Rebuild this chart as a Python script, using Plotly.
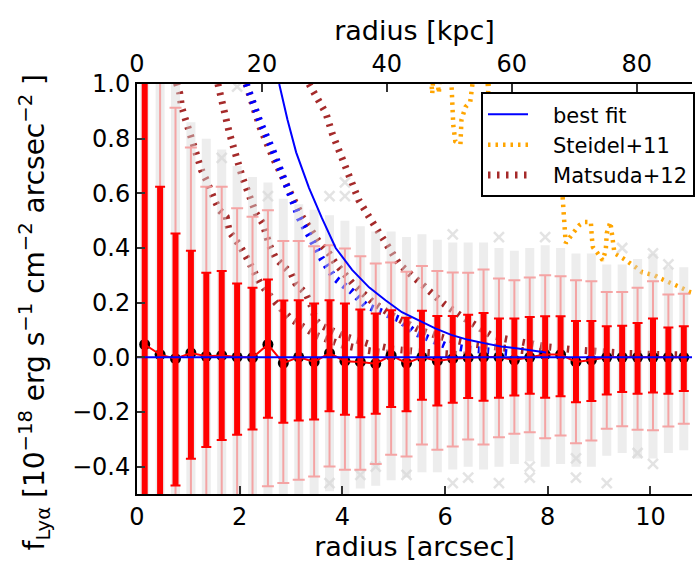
import plotly.graph_objects as go

# ---------------- data ----------------
r_arcsec = [0.15, 0.45, 0.75, 1.05, 1.35, 1.65, 1.95, 2.25, 2.55, 2.85, 3.15, 3.45,
            3.75, 4.05, 4.35, 4.65, 4.95, 5.25, 5.55, 5.85, 6.15, 6.45, 6.75, 7.05,
            7.35, 7.65, 7.95, 8.25, 8.55, 8.85, 9.15, 9.45, 9.75, 10.05, 10.35, 10.65]
flux = [0.047, 0.010, -0.005, 0.016, 0.004, 0.007, 0.001, -0.001, 0.047, -0.021, 0.001, -0.017,
        0.015, -0.014, -0.017, -0.023, 0.007, -0.021, 0.001, -0.013, -0.005, -0.001, 0.001, 0.001,
        -0.010, 0.000, 0.010, 0.010, -0.017, -0.010, 0.000, 0.000, 0.000, 0.000, 0.000, 0.000]
sig1_hi = [1.30, 0.624, 0.453, 0.390, 0.309, 0.316, 0.270, 0.255, 0.285, 0.208, 0.209, 0.197,
           0.209, 0.197, 0.175, 0.160, 0.172, 0.145, 0.170, 0.151, 0.151, 0.156, 0.162, 0.142,
           0.142, 0.148, 0.150, 0.150, 0.133, 0.133, 0.114, 0.116, 0.126, 0.142, 0.109, 0.114]
sig1_lo = [-1.20, -0.60, -0.469, -0.371, -0.328, -0.302, -0.283, -0.264, -0.221, -0.239, -0.231, -0.227,
           -0.197, -0.210, -0.219, -0.206, -0.182, -0.197, -0.155, -0.176, -0.166, -0.149, -0.159, -0.148,
           -0.140, -0.133, -0.148, -0.142, -0.164, -0.160, -0.136, -0.127, -0.133, -0.129, -0.133, -0.123]
sig2_hi = [1.50, 1.20, 0.913, 0.768, 0.624, 0.624, 0.545, 0.514, 0.538, 0.426, 0.426, 0.406,
           0.410, 0.398, 0.370, 0.343, 0.347, 0.313, 0.334, 0.316, 0.310, 0.309, 0.321, 0.288,
           0.282, 0.292, 0.300, 0.297, 0.282, 0.278, 0.239, 0.239, 0.255, 0.278, 0.230, 0.233]
sig2_lo = [-1.40, -1.20, -0.90, -0.75, -0.63, -0.61, -0.56, -0.52, -0.472, -0.460, -0.448, -0.436,
           -0.399, -0.411, -0.411, -0.390, -0.356, -0.363, -0.319, -0.338, -0.326, -0.301, -0.319, -0.292,
           -0.280, -0.274, -0.296, -0.286, -0.314, -0.304, -0.261, -0.252, -0.265, -0.267, -0.253, -0.243]
# extent of the dense cloud of individual (grey) measurements per bin
cloud_hi = [1.10, 1.10, 1.00, 0.86, 0.80, 0.76, 0.70, 0.66, 0.64, 0.58, 0.56, 0.54,
            0.52, 0.50, 0.48, 0.46, 0.46, 0.44, 0.45, 0.43, 0.42, 0.42, 0.42, 0.40,
            0.39, 0.40, 0.41, 0.40, 0.38, 0.38, 0.34, 0.34, 0.36, 0.38, 0.33, 0.33]
cloud_lo = [-0.60, -0.60, -0.60, -0.60, -0.60, -0.60, -0.60, -0.60, -0.60, -0.55, -0.55, -0.52,
            -0.49, -0.50, -0.48, -0.47, -0.45, -0.44, -0.42, -0.42, -0.41, -0.40, -0.41, -0.40,
            -0.39, -0.38, -0.40, -0.39, -0.40, -0.40, -0.36, -0.35, -0.37, -0.37, -0.35, -0.34]
# sparse outlying individual measurements
out_r = [1.95, 1.65, 2.55, 3.75, 4.05, 4.05, 6.15, 7.05, 7.95, 9.45, 10.05, 10.35,
         3.75, 4.35, 4.65, 5.25, 6.15, 6.45, 7.05, 7.65, 7.65, 8.55, 8.55, 9.15, 9.75, 10.05]
out_f = [0.99, 0.73, 0.59, 0.59, 0.64, 0.59, 0.45, 0.44, 0.44, 0.40, 0.38, 0.34,
         -0.46, -0.43, -0.40, -0.43, -0.46, -0.44, -0.46, -0.40, -0.44, -0.37, -0.44, -0.46, -0.35, -0.39]

# best-fit model
fit_r = [2.77, 2.93, 3.10, 3.35, 3.60, 3.87, 4.19, 4.52, 4.84, 5.16, 5.48, 5.81, 6.12,
         6.45, 6.78, 7.09, 7.42, 7.97]
fit_f = [1.00, 0.87, 0.75, 0.62, 0.51, 0.40, 0.32, 0.256, 0.209, 0.165, 0.136, 0.106, 0.082,
         0.064, 0.051, 0.040, 0.032, 0.018]
zero_r = [0.0, 11.0]
zero_f = [0.0, 0.0]
# best fit, dotted version
fitd_r = [2.13, 2.40, 2.64, 2.90, 3.16, 3.40, 3.60, 3.85, 4.19, 4.45, 4.80, 5.10, 5.42, 5.74,
          6.00, 6.39, 6.90, 7.50]
fitd_f = [1.00, 0.86, 0.76, 0.63, 0.51, 0.43, 0.36, 0.29, 0.24, 0.19, 0.165, 0.14, 0.09, 0.062,
          0.044, 0.032, 0.020, 0.012]

# Matsuda+12 profiles (several scalings)
mat1_r = [0.769, 0.833, 0.866, 0.93, 0.995, 1.06, 1.126, 1.19, 1.255, 1.352, 1.415, 1.512, 1.609,
          1.738, 1.80, 2.00, 2.13, 2.40, 2.70, 3.00, 3.50, 4.00, 4.50, 5.00]
mat1_f = [1.003, 0.966, 0.917, 0.88, 0.832, 0.789, 0.752, 0.722, 0.685, 0.648, 0.612, 0.575, 0.538,
          0.514, 0.459, 0.41, 0.367, 0.27, 0.20, 0.14, 0.08, 0.045, 0.025, 0.012]
mat2_r = [1.576, 1.80, 2.05, 2.32, 2.45, 2.58, 2.71, 3.00, 3.09, 3.29, 3.39, 3.48, 3.58, 4.00,
          4.50, 5.00, 5.50, 6.00, 6.50]
mat2_f = [1.00, 0.82, 0.66, 0.526, 0.49, 0.41, 0.36, 0.307, 0.27, 0.233, 0.19, 0.136, 0.117, 0.08,
          0.05, 0.03, 0.02, 0.012, 0.007]
mat3_r = [2.126, 2.40, 2.65, 2.95, 3.22, 3.55, 3.74, 3.87, 4.20, 4.60, 5.00, 5.50, 6.00, 6.50,
          7.00, 7.50, 8.00]
mat3_f = [1.00, 0.84, 0.73, 0.61, 0.514, 0.42, 0.38, 0.343, 0.27, 0.20, 0.15, 0.10, 0.07, 0.05,
          0.035, 0.025, 0.018]
mat4_r = [3.35, 3.55, 3.68, 3.80, 3.93, 4.06, 4.19, 4.32, 4.52, 4.68, 4.94, 5.10, 5.35, 5.71,
          5.97, 6.29, 6.65, 6.90, 7.16, 7.60, 8.00, 8.50, 9.00, 9.50, 10.0, 10.8]
mat4_f = [1.00, 0.93, 0.893, 0.82, 0.758, 0.685, 0.636, 0.575, 0.514, 0.465, 0.386, 0.343, 0.30,
          0.239, 0.197, 0.154, 0.111, 0.08, 0.068, 0.05, 0.038, 0.028, 0.02, 0.015, 0.011, 0.008]

# Steidel+11 profile (two scalings)
ste1_r = [5.70, 5.75, 5.80, 5.88, 5.92, 6.10, 6.13, 6.16, 6.20, 6.30, 6.32, 6.40, 6.49, 6.53,
          6.60, 6.80, 6.84, 6.88]
ste1_f = [1.10, 0.965, 1.10, 0.966, 1.10, 1.10, 0.98, 0.85, 0.79, 0.78, 0.87, 0.916, 0.934, 0.99,
          1.10, 1.10, 0.97, 1.10]
ste2_r = [8.29, 8.33, 8.35, 8.49, 8.62, 8.72, 8.84, 8.86, 8.88, 8.97, 9.07, 9.13, 9.15, 9.22,
          9.30, 9.46, 9.59, 9.71, 9.84, 10.08, 10.19, 10.37, 10.48, 10.62, 10.78, 10.9]
ste2_f = [0.586, 0.476, 0.418, 0.454, 0.484, 0.495, 0.495, 0.436, 0.403, 0.381, 0.355, 0.392,
          0.454, 0.495, 0.381, 0.363, 0.348, 0.330, 0.311, 0.300, 0.289, 0.275, 0.264, 0.253,
          0.238, 0.232]

KPC_PER_ARCSEC = 8.22
X_MAX = 10.81
Y_RANGE = [-0.5, 1.0]

FONT = "DejaVu Sans"
BROWN = "#a52a2a"
ORANGE = "#ffa500"
BLUE = "#0000ff"
NB = "\u00a0\u00a0\u00a0"

fig = go.Figure()

dot_thick = "2.5px,6.5px"
for i, (rr, ff) in enumerate([(mat1_r, mat1_f), (mat2_r, mat2_f), (mat3_r, mat3_f), (mat4_r, mat4_f)]):
    fig.add_trace(go.Scatter(x=rr, y=ff, mode="lines", name=NB + "Matsuda+12",
                             line=dict(color=BROWN, width=7, dash=dot_thick),
                             showlegend=(i == 0), legendrank=3))
fig.add_trace(go.Scatter(x=fitd_r, y=fitd_f, mode="lines", showlegend=False,
                         line=dict(color=BLUE, width=7, dash=dot_thick)))
for i, (rr, ff) in enumerate([(ste1_r, ste1_f), (ste2_r, ste2_f)]):
    fig.add_trace(go.Scatter(x=rr, y=ff, mode="lines", name=NB + "Steidel+11",
                             line=dict(color=ORANGE, width=4.5, dash="2.5px,5px"),
                             showlegend=(i == 0), legendrank=2))

# grey cloud of individual measurements
fig.add_trace(go.Scatter(
    x=r_arcsec, y=cloud_lo, mode="markers", marker=dict(opacity=0, size=1), showlegend=False,
    error_y=dict(type="data", symmetric=False,
                 array=[h - l for h, l in zip(cloud_hi, cloud_lo)],
                 arrayminus=[0] * len(cloud_lo),
                 color="rgba(215,215,215,0.45)", thickness=9, width=0)))
fig.add_trace(go.Scatter(x=out_r, y=out_f, mode="markers", showlegend=False,
                         marker=dict(symbol="x-thin-open", size=10, color="rgba(215,215,215,0.7)",
                                     line=dict(width=2.5, color="rgba(215,215,215,0.7)"))))

# black points
fig.add_trace(go.Scatter(x=r_arcsec, y=flux, mode="markers", showlegend=False,
                         marker=dict(color="black", size=11)))
# 2-sigma (thin, light red)
fig.add_trace(go.Scatter(
    x=r_arcsec, y=flux, mode="markers", marker=dict(opacity=0, size=1), showlegend=False,
    error_y=dict(type="data", symmetric=False,
                 array=[h - f for h, f in zip(sig2_hi, flux)],
                 arrayminus=[f - l for f, l in zip(flux, sig2_lo)],
                 color="rgba(245,150,150,0.85)", thickness=2, width=6)))
# 1-sigma (thick red) + connecting line
fig.add_trace(go.Scatter(
    x=r_arcsec, y=flux, mode="lines", line=dict(color="red", width=2), showlegend=False,
    error_y=dict(type="data", symmetric=False,
                 array=[h - f for h, f in zip(sig1_hi, flux)],
                 arrayminus=[f - l for f, l in zip(flux, sig1_lo)],
                 color="red", thickness=6, width=0)))
fig.add_trace(go.Scatter(
    x=r_arcsec, y=flux, mode="markers", marker=dict(opacity=0, size=1), showlegend=False,
    error_y=dict(type="data", symmetric=False,
                 array=[h - f for h, f in zip(sig1_hi, flux)],
                 arrayminus=[f - l for f, l in zip(flux, sig1_lo)],
                 color="red", thickness=2, width=5)))

# best fit
fig.add_trace(go.Scatter(x=fit_r, y=fit_f, mode="lines", name=NB + "best fit",
                         line=dict(color=BLUE, width=2), legendrank=1))
fig.add_trace(go.Scatter(x=zero_r, y=zero_f, mode="lines", showlegend=False,
                         line=dict(color=BLUE, width=2)))

# invisible trace to activate top axis
fig.add_trace(go.Scatter(x=[0], y=[0], xaxis="x2", mode="markers",
                         marker=dict(opacity=0), showlegend=False, hoverinfo="skip"))

axis_common = dict(showgrid=False, zeroline=False, ticks="inside", ticklen=8, tickwidth=1.5,
                   tickcolor="#333", linecolor="black", linewidth=2, showline=True,
                   tickfont=dict(family=FONT, size=24, color="black"))

fig.update_layout(
    width=695, height=562,
    margin=dict(l=137, r=0, t=84, b=68),
    plot_bgcolor="white", paper_bgcolor="white",
    font=dict(family=FONT, color="black"),
    xaxis=dict(range=[0, X_MAX], tickvals=[0, 2, 4, 6, 8, 10], ticktext=["0", "2", "4", "6", "8", "10"],
               title=dict(text="radius [arcsec]", font=dict(family=FONT, size=27), standoff=2),
               **axis_common),
    xaxis2=dict(range=[0, X_MAX * KPC_PER_ARCSEC], overlaying="x", side="top", anchor="y",
                tickvals=[0, 20, 40, 60, 80],
                title=dict(text="radius [kpc]", font=dict(family=FONT, size=27), standoff=2),
                **axis_common),
    yaxis=dict(range=Y_RANGE, tickvals=[-0.4, -0.2, 0.0, 0.2, 0.4, 0.6, 0.8, 1.0],
               ticktext=["\u22120.4", "\u22120.2", "0.0", "0.2", "0.4", "0.6", "0.8", "1.0"],
               **axis_common),
    legend=dict(x=0.62, y=0.98, xanchor="left", yanchor="top",
                bgcolor="white", bordercolor="black", borderwidth=2,
                font=dict(family=FONT, size=21), itemwidth=40),
    annotations=[dict(
        text="f<sub>Ly\u03b1</sub> [10<sup>\u221218</sup> erg s<sup>\u22121</sup> cm<sup>\u22122</sup> arcsec<sup>\u22122</sup> ]",
        textangle=-90, xref="paper", yref="paper", x=-0.183, y=0.444,
        xanchor="center", yanchor="middle", showarrow=False,
        font=dict(family=FONT, size=28, color="black"))],
)

fig.write_html("out.html")
